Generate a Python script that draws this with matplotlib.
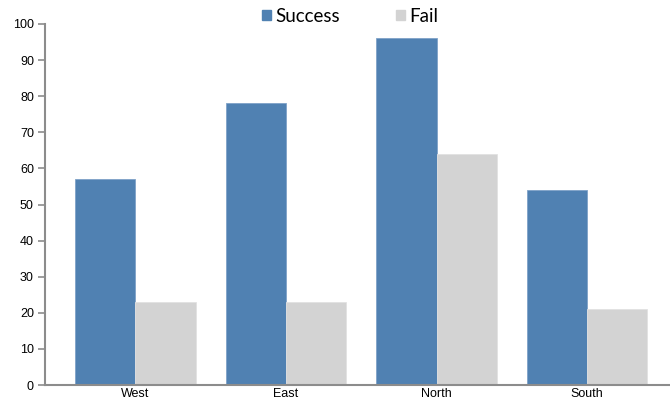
import matplotlib.pyplot as plt
import numpy as np
from matplotlib.patches import Patch

# regional outcome counts
regions = ["West", "East", "North", "South"]
success = [57, 78, 96, 54]
fail = [23, 23, 64, 21]

blue = "#5081b2"
grey = "#d3d3d3"
axis_grey = "#8c8c8c"

fig = plt.figure(figsize=(6.7, 3.98), dpi=100)
ax = fig.add_axes([45 / 670, 13 / 398, 625 / 670, 361 / 398])

x = np.arange(len(regions))
w = 0.4
ax.bar(x - w / 2, success, width=w, color=blue, edgecolor="#7fa2c8", linewidth=0.6)
ax.bar(x + w / 2, fail, width=w, color=grey, edgecolor="#e2e2e2", linewidth=0.6)

ax.set_xlim(-0.6, 3.55)
ax.set_ylim(0, 100)
ax.set_yticks(range(0, 101, 10))
ax.set_xticks(x)
ax.set_xticklabels(regions)

for side in ("top", "right"):
    ax.spines[side].set_visible(False)
for side in ("left", "bottom"):
    ax.spines[side].set_color(axis_grey)
    ax.spines[side].set_linewidth(1.5)

ax.tick_params(axis="y", length=5, width=1.2, color=axis_grey, pad=3,
               labelsize=9, labelfontfamily="Liberation Sans")
ax.tick_params(axis="x", length=0, pad=2, labelsize=9,
               labelfontfamily="Liberation Sans")

handles = [Patch(color=blue, label="Success"), Patch(color=grey, label="Fail")]
fig.legend(handles=handles, loc="center", bbox_to_anchor=(350 / 670, 1 - 16 / 398),
           ncol=2, frameon=False, handlelength=0.5, handleheight=0.5,
           handletextpad=0.2, columnspacing=3.0, borderaxespad=0,
           prop={"family": "Lato", "size": 13.5})

fig.savefig("out.png", dpi=100)
